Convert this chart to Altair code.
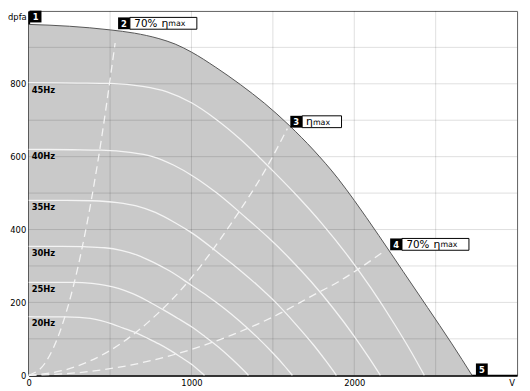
import altair as alt
import pandas as pd

FONT = "DejaVu Sans"

# ---- data -------------------------------------------------------------
# outer boundary (maximum speed) curve
max_V = [0, 250, 500, 650, 800, 900, 1000, 1150, 1300, 1450, 1600, 1750, 1900, 2000, 2150, 2300, 2450, 2600, 2723]
max_P = [963, 958, 948, 939, 924, 909, 887, 845, 798, 746, 686, 618, 540, 480, 384, 285, 186, 86, 0]

hz_labels = ["45Hz", "40Hz", "35Hz", "30Hz", "25Hz", "20Hz"]
hz45_V = [0, 300, 500, 700, 850, 1000, 1150, 1300, 1500, 1650, 1800, 1950, 2100, 2250, 2350, 2430]
hz45_P = [803, 802, 801, 793, 778, 748, 703, 648, 561, 492, 417, 334, 241, 138, 64, 0]
hz40_V = [0, 267, 444, 622, 756, 889, 1022, 1156, 1333, 1467, 1600, 1733, 1867, 2000, 2089, 2160]
hz40_P = [620, 619, 618, 612, 601, 577, 543, 500, 433, 380, 322, 258, 186, 107, 49, 0]
hz35_V = [0, 233, 389, 544, 661, 778, 894, 1011, 1167, 1283, 1400, 1517, 1633, 1750, 1828, 1890]
hz35_P = [480, 480, 479, 474, 465, 447, 420, 388, 335, 294, 249, 200, 144, 83, 38, 0]
hz30_V = [0, 200, 333, 467, 567, 667, 767, 867, 1000, 1100, 1200, 1300, 1400, 1500, 1567, 1620]
hz30_P = [354, 354, 353, 350, 343, 330, 310, 286, 247, 217, 184, 147, 106, 61, 28, 0]
hz25_V = [0, 167, 278, 389, 472, 556, 639, 722, 833, 917, 1000, 1083, 1167, 1250, 1306, 1350]
hz25_P = [255, 255, 255, 252, 247, 238, 224, 206, 178, 156, 133, 106, 77, 44, 20, 0]
hz20_V = [0, 133, 222, 311, 378, 444, 511, 578, 667, 733, 800, 867, 933, 1000, 1044, 1080]
hz20_P = [161, 160, 160, 159, 156, 150, 141, 130, 115, 101, 86, 69, 50, 30, 14, 0]

# system curves (dashed)
eta70a_V = [0, 100, 200, 300, 386, 446, 500, 531]
eta70a_P = [0, 33, 130, 292, 484, 646, 812, 912]
eta_V = [0, 250, 500, 750, 1000, 1122, 1261, 1450, 1589]
eta_P = [0, 18, 68, 152, 268, 339, 428, 561, 677]
eta70b_V = [0, 250, 500, 750, 1000, 1250, 1500, 1778, 1900, 2000, 2166]
eta70b_P = [0, 5, 18, 40, 71, 111, 160, 227, 256, 284, 335]

xgrid = [500, 1000, 1500, 2000, 2500]
ygrid = [100, 200, 300, 400, 500, 600, 700, 800, 900]
x_ticks = [0, 1000, 2000]
y_ticks = [0, 200, 400, 600, 800]

# ---- tables ------------------------------------------------------------
outer = pd.DataFrame({"V": max_V, "P": max_P})

hz_sets = [(hz45_V, hz45_P), (hz40_V, hz40_P), (hz35_V, hz35_P),
           (hz30_V, hz30_P), (hz25_V, hz25_P), (hz20_V, hz20_P)]
rows = []
for lab, (vv, pp) in zip(hz_labels, hz_sets):
    for v, p in zip(vv, pp):
        rows.append({"V": v, "P": p, "curve": lab})
hz_df = pd.DataFrame(rows)
hz_lab_df = pd.DataFrame({"V": [0] * len(hz_labels), "P": [s[1][0] for s in hz_sets], "t": hz_labels})

rows = []
for name, vv, pp in [("a", eta70a_V, eta70a_P), ("b", eta_V, eta_P), ("c", eta70b_V, eta70b_P)]:
    for v, p in zip(vv, pp):
        rows.append({"V": v, "P": p, "curve": name})
sys_df = pd.DataFrame(rows)

xs = alt.Scale(domain=[0, 3000], nice=False, zero=True)
ys = alt.Scale(domain=[0, 1000], nice=False, zero=True)
xaxis = alt.Axis(values=x_ticks, format="d", grid=False, ticks=False, labelPadding=3,
                 domainColor="black", domainWidth=2, labelFont=FONT, labelFontSize=8.5,
                 labelColor="black", labelFlush=False, title=None)
yaxis = alt.Axis(values=y_ticks, format="d", grid=False, ticks=False, labelPadding=3,
                 domainColor="black", domainWidth=2, labelFont=FONT, labelFontSize=8.5,
                 labelColor="black", labelFlush=False, title=None)
X = alt.X("V:Q", scale=xs, axis=xaxis)
Y = alt.Y("P:Q", scale=ys, axis=yaxis, stack=None)

area = alt.Chart(outer).mark_area(color="#c9c9c9", opacity=1, interpolate="monotone").encode(x=X, y=Y)

vgrid = alt.Chart(pd.DataFrame({"V": xgrid})).mark_rule(color="black", opacity=0.13, strokeWidth=1).encode(x=X)
hgrid = alt.Chart(pd.DataFrame({"P": ygrid})).mark_rule(color="black", opacity=0.13, strokeWidth=1).encode(y=Y)

hz_lines = alt.Chart(hz_df).mark_line(color="#f4f4f4", strokeWidth=1.3, interpolate="monotone").encode(
    x=X, y=Y, detail="curve:N")
sys_lines = alt.Chart(sys_df).mark_line(color="#f4f4f4", strokeWidth=1.3, strokeDash=[8, 5],
                                        interpolate="monotone").encode(x=X, y=Y, detail="curve:N")
outer_line = alt.Chart(outer).mark_line(color="#555555", strokeWidth=1, interpolate="monotone").encode(x=X, y=Y)

hz_text = alt.Chart(hz_lab_df).mark_text(align="left", baseline="top", dx=3, dy=3, font=FONT,
                                          fontSize=8.5, fontWeight="bold", color="black").encode(
    x=X, y=Y, text="t:N")


def badge(v, p, num, bx, by, white_w=0, eta_text=None):
    d = pd.DataFrame({"V": [v], "P": [p]})
    b = alt.Chart(d)
    enc = dict(x=X, y=Y)
    out = []
    if white_w:
        wx = bx + 12
        out.append(b.mark_rect(fill="white", stroke="black", strokeWidth=1,
                               xOffset=wx, x2Offset=wx + white_w, yOffset=by, y2Offset=by + 12).encode(
            x2=alt.X2("V"), y2=alt.Y2("P"), **enc))
        cy = by + 6.5
        if eta_text:
            out.append(b.mark_text(text=eta_text, align="left", baseline="middle", dx=wx + 4.5, dy=cy,
                                   font=FONT, fontSize=10.5, color="black").encode(**enc))
            ex = wx + 32
        else:
            ex = wx + 4
        out.append(b.mark_text(text="η", align="left", baseline="middle", dx=ex, dy=cy,
                               font=FONT, fontSize=11, color="black").encode(**enc))
        out.append(b.mark_text(text="max", align="left", baseline="middle", dx=ex + 7, dy=cy + 0.5,
                               font=FONT, fontSize=8, color="black").encode(**enc))
    out.append(b.mark_rect(color="black", xOffset=bx, x2Offset=bx + 12, yOffset=by, y2Offset=by + 12).encode(
        x2=alt.X2("V"), y2=alt.Y2("P"), **enc))
    out.append(b.mark_text(text=num, align="center", baseline="middle", dx=bx + 6, dy=by + 6.5,
                           font=FONT, fontSize=8.5, fontWeight="bold", color="white").encode(**enc))
    return out


badges = []
badges += badge(max_V[0], max_P[0], "1", 1, -14)
badges += badge(eta70a_V[-1], eta70a_P[-1], "2", 3, -26, 68, "70%")
badges += badge(eta_V[-1], eta_P[-1], "3", 3, -13, 40)
badges += badge(eta70b_V[-1], eta70b_P[-1], "4", 9, -15, 68, "70%")
badges += badge(max_V[-1], max_P[-1], "5", 4, -12)

unit_df = pd.DataFrame({"V": [0, 3000], "P": [1000, 0], "t": ["dpfa", "V"]})
dpfa = alt.Chart(unit_df.iloc[[0]]).mark_text(align="right", baseline="middle", dx=-2, dy=6,
                                              font=FONT, fontSize=8.5, color="black").encode(x=X, y=Y, text="t:N")
vlab = alt.Chart(unit_df.iloc[[1]]).mark_text(align="center", baseline="top", dx=-5, dy=4,
                                              font=FONT, fontSize=8.5, color="black").encode(x=X, y=Y, text="t:N")

chart = alt.layer(area, vgrid, hgrid, hz_lines, sys_lines, outer_line, hz_text, *badges, dpfa, vlab).properties(
    width=496, height=370,
    padding={"left": 21, "top": 0, "right": 5, "bottom": 13},
    autosize=alt.AutoSizeParams(type="none"),
    background="white",
).configure_view(stroke="#5e5e5e", strokeWidth=1)

chart.save("out.html", embed_options={"renderer": "svg", "actions": False})
